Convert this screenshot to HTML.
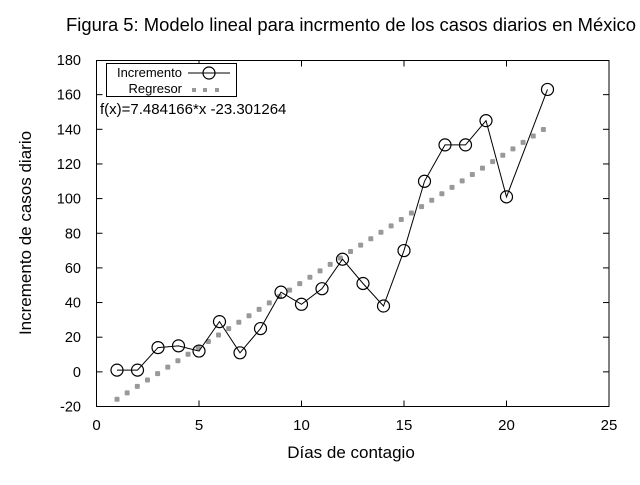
<!DOCTYPE html><html><head><style>body{margin:0;background:#fff}svg text{font-family:"Liberation Sans",Arial,sans-serif}</style></head><body>
<svg width="640" height="480" xmlns="http://www.w3.org/2000/svg">
<rect width="640" height="480" fill="#fff"/>
<text x="351" y="31" font-size="18.5" text-anchor="middle" textLength="570" lengthAdjust="spacingAndGlyphs">Figura 5: Modelo lineal para incrmento de los casos diarios en México</text>
<g id="ticks" stroke="#000" stroke-width="1"></g>
<rect x="96.5" y="60.5" width="512.5" height="346" fill="none" stroke="#000"/>
<g id="yl" font-size="14.5" text-anchor="end"></g>
<g id="xl" font-size="15" text-anchor="middle"></g>
<text x="351" y="458" font-size="17" text-anchor="middle">Días de contagio</text>
<text transform="translate(31,233) rotate(-90)" font-size="17" text-anchor="middle">Incremento de casos diario</text>
<g id="reg" fill="#999"></g>
<polyline id="line" fill="none" stroke="#000" stroke-width="1"/>
<g id="pts" fill="none" stroke="#000" stroke-width="1.2"></g>
<rect x="106.5" y="63.5" width="130" height="33" fill="#fff" stroke="#000"/>
<text x="182" y="77" font-size="13" text-anchor="end">Incremento</text>
<line x1="188" y1="73" x2="230" y2="73" stroke="#000"/>
<circle cx="209" cy="73" r="6" fill="none" stroke="#000" stroke-width="1.2"/>
<text x="182" y="93" font-size="13" text-anchor="end">Regresor</text>
<rect x="192" y="88" width="4" height="4" fill="#999"/><rect x="203" y="88" width="4" height="4" fill="#999"/><rect x="215" y="88" width="4" height="4" fill="#999"/>
<text x="100" y="114" font-size="15">f(x)=7.484166*x -23.301264</text>
</svg>
<script>
const X=v=>96.5+v*20.5, Y=v=>406.5-(v+20)*1.7325, ns="http://www.w3.org/2000/svg";
function el(p,t,a,txt){const e=document.createElementNS(ns,t);for(const k in a)e.setAttribute(k,a[k]);if(txt)e.textContent=txt;document.getElementById(p).appendChild(e);}
for(let v=-20;v<=180;v+=20){const y=Y(v);el('yl','text',{x:81,y:y+5},String(v));if(v>-20&&v<180){el('ticks','line',{x1:96.5,y1:y,x2:102.5,y2:y});el('ticks','line',{x1:609,y1:y,x2:603,y2:y});}}
for(let v=0;v<=25;v+=5){const x=X(v);el('xl','text',{x:x,y:430},String(v));if(v>0&&v<25){el('ticks','line',{x1:x,y1:406.5,x2:x,y2:400.5});el('ticks','line',{x1:x,y1:60.5,x2:x,y2:66.5});}}
for(let k=0;k<=42;k++){const v=1+k*20.8/42;el('reg','rect',{x:X(v)-2.5,y:Y(7.484166*v-23.301264)-2.5,width:5,height:5,rx:1});}
const d=[[1,1],[2,1],[3,14],[4,15],[5,12],[6,29],[7,11],[8,25],[9,46],[10,39],[11,48],[12,65],[13,51],[14,38],[15,70],[16,110],[17,131],[18,131],[19,145],[20,101],[22,163]];
document.getElementById('line').setAttribute('points',d.map(p=>X(p[0])+','+Y(p[1])).join(' '));
d.forEach(p=>el('pts','circle',{cx:X(p[0]),cy:Y(p[1]),r:6}));
</script>
</body></html>
